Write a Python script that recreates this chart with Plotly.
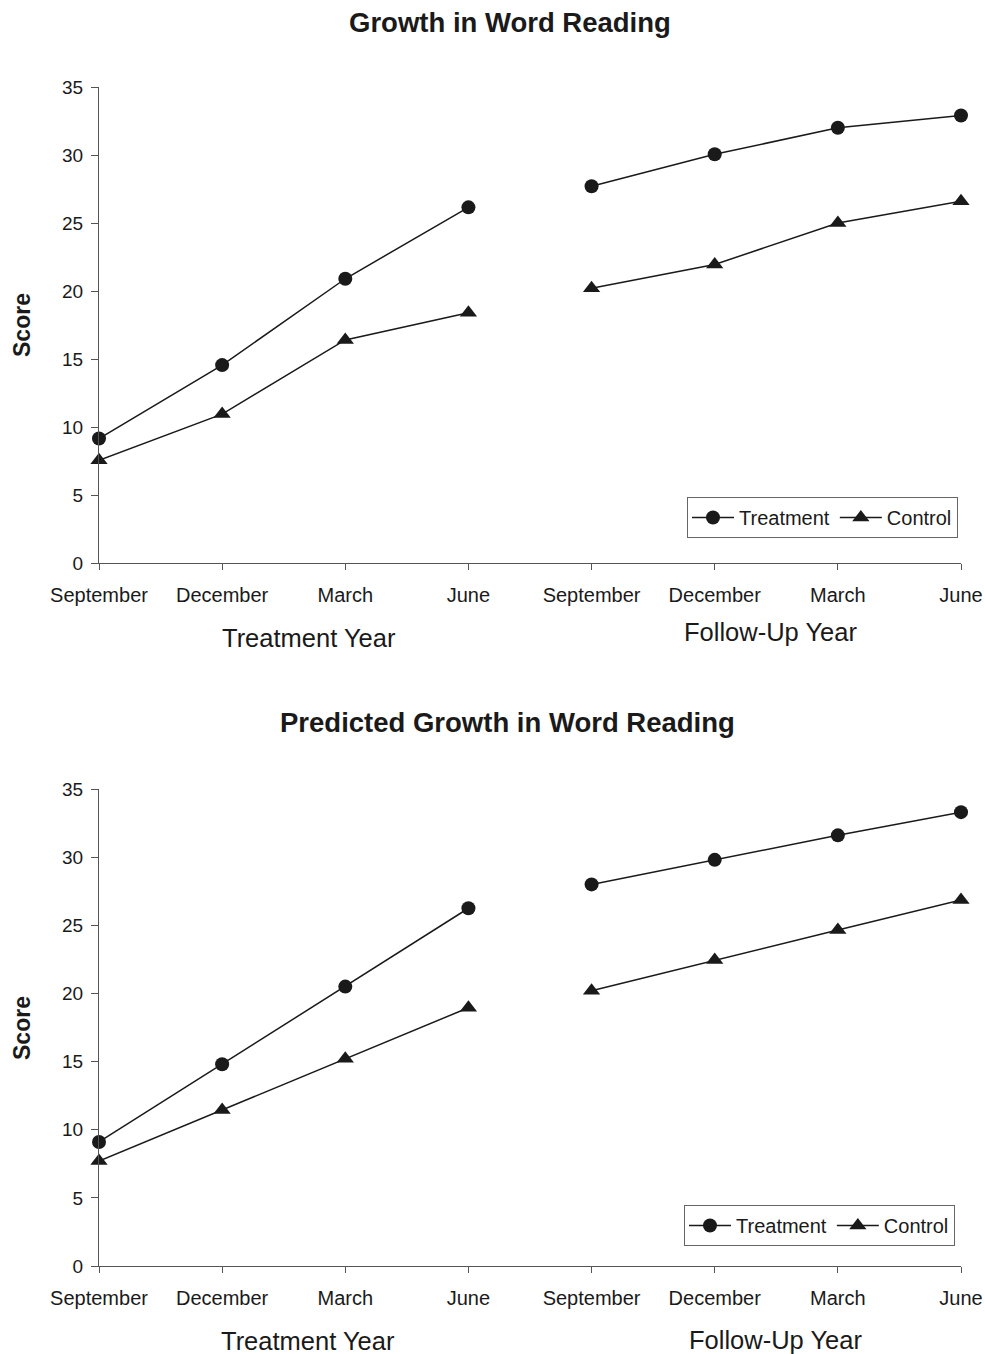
import plotly.graph_objects as go

months = ["September", "December", "March", "June"]
tick_labels = months + months
x_year1 = [0, 1, 2, 3]
x_year2 = [4, 5, 6, 7]

# Top chart: observed growth
obs_treat_y1 = [9.15, 14.55, 20.9, 26.15]
obs_treat_y2 = [27.7, 30.05, 32.0, 32.9]
obs_ctrl_y1 = [7.55, 10.95, 16.4, 18.4]
obs_ctrl_y2 = [20.2, 21.95, 25.0, 26.6]

# Bottom chart: predicted growth
pred_treat_y1 = [9.1, 14.8, 20.5, 26.25]
pred_treat_y2 = [28.0, 29.8, 31.6, 33.3]
pred_ctrl_y1 = [7.7, 11.45, 15.2, 18.95]
pred_ctrl_y2 = [20.2, 22.45, 24.65, 26.85]

titles = ["Growth in Word Reading", "Predicted Growth in Word Reading"]

W, H = 985, 1354
FONT = "Arial, 'Liberation Sans', sans-serif"
INK = "#1a1a1a"
AX = "#555555"

def py(p):
    return 1 - p / H

def px(p):
    return p / W

fig = go.Figure()

panels = [
    dict(xa="x", ya="y", leg="legend",
         treat=(obs_treat_y1, obs_treat_y2), ctrl=(obs_ctrl_y1, obs_ctrl_y2)),
    dict(xa="x2", ya="y2", leg="legend2",
         treat=(pred_treat_y1, pred_treat_y2), ctrl=(pred_ctrl_y1, pred_ctrl_y2)),
]

for p in panels:
    for name, vals, sym, size in [("Treatment", p["treat"], "circle", 14),
                                  ("Control", p["ctrl"], "triangle-up", 15)]:
        for i, (xs, ys) in enumerate([(x_year1, vals[0]), (x_year2, vals[1])]):
            fig.add_trace(go.Scatter(
                x=xs, y=ys, mode="lines+markers", name=name,
                xaxis=p["xa"], yaxis=p["ya"], legend=p["leg"],
                legendgroup=name + p["leg"], showlegend=(i == 0),
                cliponaxis=False,
                line=dict(color=INK, width=1.5),
                marker=dict(symbol=sym, size=size, color=INK),
            ))

# plot area pixel geometry
x_left, x_right = 99, 961
top_y0, top_y35 = 563, 87
bot_y0, bot_y35 = 1266, 789

common_x = dict(range=[0, 7], tickvals=list(range(8)), ticktext=tick_labels,
                showline=True, linecolor=AX, linewidth=1, ticks="outside",
                ticklen=6, tickcolor=AX, showgrid=False, zeroline=False,
                automargin=False,
                tickfont=dict(family=FONT, size=20, color=INK),
                ticklabelstandoff=8)
common_y = dict(range=[0, 35], tickvals=list(range(0, 36, 5)),
                showline=True, linecolor=AX, linewidth=1, ticks="outside",
                ticklen=7, tickcolor=AX, showgrid=False, zeroline=False,
                automargin=False,
                tickfont=dict(family=FONT, size=19, color=INK),
                ticklabelstandoff=4)

fig.update_layout(
    template="none",
    width=W, height=H,
    margin=dict(l=0, r=0, t=0, b=0, autoexpand=False),
    paper_bgcolor="white", plot_bgcolor="white",
    font=dict(family=FONT, color=INK),
    xaxis=dict(domain=[px(x_left), px(x_right)], anchor="y", **common_x),
    yaxis=dict(domain=[py(top_y0), py(top_y35)], anchor="x", **common_y),
    xaxis2=dict(domain=[px(x_left), px(x_right)], anchor="y2", **common_x),
    yaxis2=dict(domain=[py(bot_y0), py(bot_y35)], anchor="x2", **common_y),
    legend=dict(orientation="h", x=px(958), xanchor="right", y=py(497), yanchor="top",
                bordercolor="#666666", borderwidth=1, bgcolor="white", itemwidth=42,
                font=dict(family=FONT, size=20, color=INK), itemclick=False),
    legend2=dict(orientation="h", x=px(955), xanchor="right", y=py(1205), yanchor="top",
                 bordercolor="#666666", borderwidth=1, bgcolor="white", itemwidth=42,
                 font=dict(family=FONT, size=20, color=INK), itemclick=False),
)

annotations = [
    dict(text="<b>" + titles[0] + "</b>", x=px(510), y=py(22), font=dict(size=27.5)),
    dict(text="<b>" + titles[1] + "</b>", x=px(508), y=py(722), font=dict(size=27.5)),
    dict(text="<b>Score</b>", x=px(22), y=py(325), textangle=-90, font=dict(size=23)),
    dict(text="<b>Score</b>", x=px(22), y=py(1028), textangle=-90, font=dict(size=23)),
    dict(text="Treatment Year", x=px(309), y=py(638), font=dict(size=25.5)),
    dict(text="Follow-Up Year", x=px(770), y=py(632), font=dict(size=25.5)),
    dict(text="Treatment Year", x=px(308), y=py(1341), font=dict(size=25.5)),
    dict(text="Follow-Up Year", x=px(775), y=py(1340), font=dict(size=25.5)),
]
for a in annotations:
    fig.add_annotation(xref="paper", yref="paper", showarrow=False,
                       xanchor="center", yanchor="middle",
                       text=a["text"], x=a["x"], y=a["y"], textangle=a.get("textangle", 0),
                       font=dict(family=FONT, color=INK, size=a["font"]["size"]))

fig.write_html("out.html", config={"displayModeBar": False},
               post_script="document.body.style.margin='0';document.body.style.overflow='hidden';")
